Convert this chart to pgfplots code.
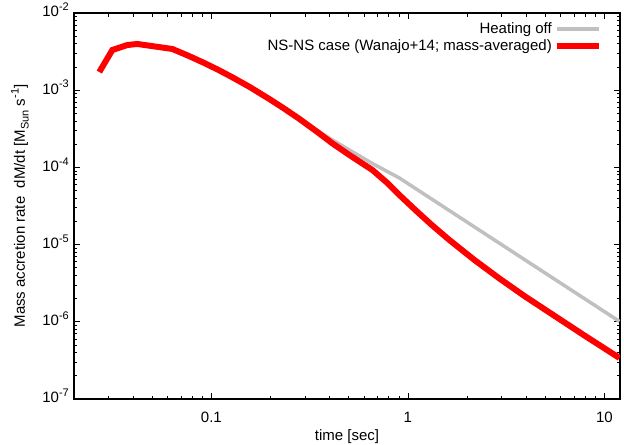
\documentclass[border=0pt]{standalone}
\usepackage{pgfplots}
\pgfplotsset{compat=1.18}
\usepackage{fontspec}
\setmainfont{Liberation Sans}
\definecolor{heatgray}{RGB}{192,192,192}
\newcommand{\sups}[1]{\raisebox{0.42em}{\fontsize{11bp}{11bp}\selectfont #1}}
\newcommand{\subs}[1]{\raisebox{-0.25em}{\fontsize{11bp}{11bp}\selectfont #1}}

\pgfplotstableread{
t mdot
0.0269 1.72e-3
0.03134 3.32e-3
0.03736 3.85e-3
0.04201 3.97e-3
0.06331 3.42e-3
0.07546 2.832e-3
0.0900 2.312e-3
0.1073 1.860e-3
0.1279 1.469e-3
0.1561 1.107e-3
0.1973 7.69e-4
0.2352 5.76e-4
0.2804 4.25e-4
0.3463 3.006e-4
0.4129 2.265e-4
0.5040 1.680e-4
0.6597 1.123e-4
0.9051 7.29e-5
1.626 2.757e-5
2.922 1.042e-5
5.250 3.94e-6
11.92 1.012e-6
}\heatoff

\pgfplotstableread{
t mdot
0.0269 1.72e-3
0.03134 3.32e-3
0.03736 3.85e-3
0.04201 3.97e-3
0.06331 3.42e-3
0.07546 2.832e-3
0.0900 2.312e-3
0.1073 1.860e-3
0.1279 1.469e-3
0.1561 1.107e-3
0.1973 7.69e-4
0.2352 5.76e-4
0.2804 4.25e-4
0.3463 2.873e-4
0.4129 2.047e-4
0.5040 1.447e-4
0.6597 9.25e-5
0.7864 6.28e-5
0.9051 4.39e-5
1.105 2.724e-5
1.332 1.768e-5
1.626 1.147e-5
2.180 6.32e-6
2.922 3.64e-6
3.916 2.158e-6
5.250 1.32e-6
7.911 6.65e-7
11.92 3.40e-7
}\nsns

\begin{document}
\fontsize{15bp}{18bp}\selectfont
\begin{tikzpicture}
\useasboundingbox (-74bp,-46bp) rectangle (550bp,399bp);
\begin{axis}[
  scale only axis, width=546bp, height=386bp,
  xmode=log, ymode=log,
  xmin=0.02, xmax=12, ymin=1e-7, ymax=1e-2,
  axis line style={line width=1.1bp},
  every tick/.style={black, line width=0.8bp},
  major tick length=6bp, minor tick length=3.5bp,
  xtick={0.1,1,10}, xticklabels={0.1,1,10},
  minor xtick={0.02,0.03,0.04,0.05,0.06,0.07,0.08,0.09,0.2,0.3,0.4,0.5,0.6,0.7,0.8,0.9,2,3,4,5,6,7,8,9},
  ytick={1e-7,1e-6,1e-5,1e-4,1e-3,1e-2},
  yticklabels={10\sups{-7},10\sups{-6},10\sups{-5},10\sups{-4},10\sups{-3},10\sups{-2}},
  minor ytick={2e-7,3e-7,4e-7,5e-7,6e-7,7e-7,8e-7,9e-7,2e-6,3e-6,4e-6,5e-6,6e-6,7e-6,8e-6,9e-6,2e-5,3e-5,4e-5,5e-5,6e-5,7e-5,8e-5,9e-5,2e-4,3e-4,4e-4,5e-4,6e-4,7e-4,8e-4,9e-4,2e-3,3e-3,4e-3,5e-3,6e-3,7e-3,8e-3,9e-3},
  yticklabel style={anchor=mid east, inner sep=0pt, xshift=-5bp},
  xticklabel style={anchor=north, inner sep=0pt, yshift=-13bp},
  xlabel={time [sec]},
  xlabel style={at={(axis description cs:0.5,-0.098)}, anchor=center},
  ylabel={Mass accretion rate\ \ dM/dt [M\subs{Sun} s\sups{-1}]},
  ylabel style={at={(axis description cs:-0.099,0.5)}, anchor=center},
  legend style={at={(axis description cs:0.967,0.981)}, anchor=north east,
    draw=none, fill=none, inner sep=0pt, row sep=0bp,
    /tikz/every even column/.append style={column sep=8bp}},
  legend cell align=right,
  legend plot pos=right,
  legend image code/.code={\draw[#1] (0bp,0bp) -- (42bp,0bp);},
]
\addplot[heatgray, line width=3.5bp] table[x=t, y=mdot] {\heatoff};
\addlegendentry{Heating off}
\addplot[red, line width=6bp] table[x=t, y=mdot] {\nsns};
\addlegendentry{NS-NS case (Wanajo+14; mass-averaged)}
\end{axis}
\end{tikzpicture}
\end{document}
